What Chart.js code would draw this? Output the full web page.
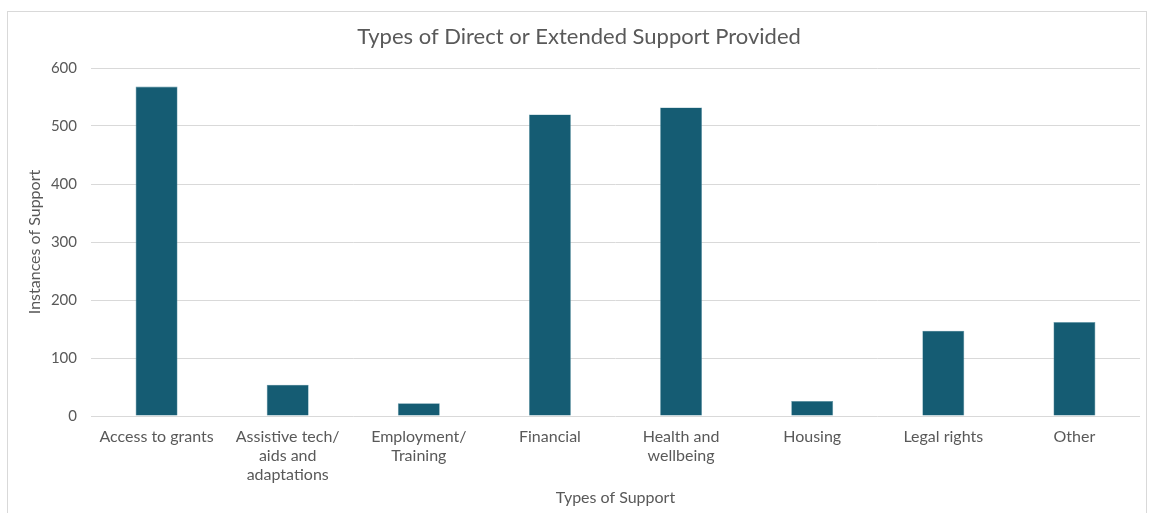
<!DOCTYPE html>
<html>
<head>
<meta charset="utf-8">
<script src="https://cdn.jsdelivr.net/npm/chart.js@4.4.1/dist/chart.umd.min.js"></script>
<style>
  html, body { margin: 0; padding: 0; background: #fff; }
  #wrap { position: relative; width: 1149px; height: 513px; overflow: hidden; }
  #frame { position: absolute; left: 7px; top: 11px; width: 1140px; height: 520px; border: 1px solid #d9d9d9; box-sizing: border-box; }
  #chart { position: absolute; left: 0; top: 0; }
</style>
</head>
<body>
<div id="wrap">
  <div id="frame"></div>
  <canvas id="chart" width="1149" height="513"></canvas>
</div>
<script>
// Daten
const categories = [
    'Access to grants',
    ['Assistive tech/', 'aids and', 'adaptations'],
    ['Employment/', 'Training'],
    'Financial',
    ['Health and', 'wellbeing'],
    'Housing',
    'Legal rights',
    'Other'
];
const instances = [568, 54, 22, 520, 532, 26, 147, 162];
const yTicks = [0, 100, 200, 300, 400, 500, 600];

const textColor = '#595959';
const gridColor = '#d9d9d9';
const barColor = '#155c73';
const fontFamily = 'Lato, "Open Sans", sans-serif';

const canvas = document.getElementById('chart');

new Chart(canvas, {
    type: 'bar',
    data: {
        labels: categories,
        datasets: [{
            label: 'Instances of Support',
            data: instances,
            backgroundColor: barColor,
            borderColor: '#5f96a6',
            borderWidth: 0.6,
            barPercentage: 0.64,
            categoryPercentage: 0.5
        }]
    },
    options: {
        responsive: false,
        animation: false,
        layout: {
            padding: { top: 0, right: 9, bottom: 0, left: 18 }
        },
        plugins: {
            legend: { display: false },
            tooltip: { enabled: false },
            title: {
                display: true,
                text: 'Types of Direct or Extended Support Provided',
                color: textColor,
                font: { family: fontFamily, size: 22, weight: 'normal', lineHeight: 1.2 },
                padding: { top: 24, bottom: 17.6 }
            }
        },
        scales: {
            x: {
                grid: { display: false, drawTicks: false },
                border: { display: false },
                ticks: {
                    color: textColor,
                    font: { family: fontFamily, size: 16, lineHeight: 1.2 },
                    maxRotation: 0,
                    minRotation: 0,
                    autoSkip: false,
                    padding: 11
                },
                title: {
                    display: true,
                    text: 'Types of Support',
                    color: textColor,
                    font: { family: fontFamily, size: 16 },
                    padding: { top: 4, bottom: 6 }
                },
                afterFit: function(scale) {
                    scale.height = 97;
                }
            },
            y: {
                min: 0,
                max: 600,
                afterBuildTicks: function(scale) {
                    scale.ticks = yTicks.map(v => ({ value: v }));
                },
                grid: { color: gridColor, lineWidth: 1, drawTicks: false },
                border: { display: false },
                ticks: {
                    color: textColor,
                    font: { family: fontFamily, size: 15 },
                    padding: 14
                },
                title: {
                    display: true,
                    text: 'Instances of Support',
                    color: textColor,
                    font: { family: fontFamily, size: 16 },
                    padding: { top: 7, bottom: 4 }
                },
                afterFit: function(scale) {
                    scale.width = 73;
                }
            }
        }
    }
});
</script>
</body>
</html>
